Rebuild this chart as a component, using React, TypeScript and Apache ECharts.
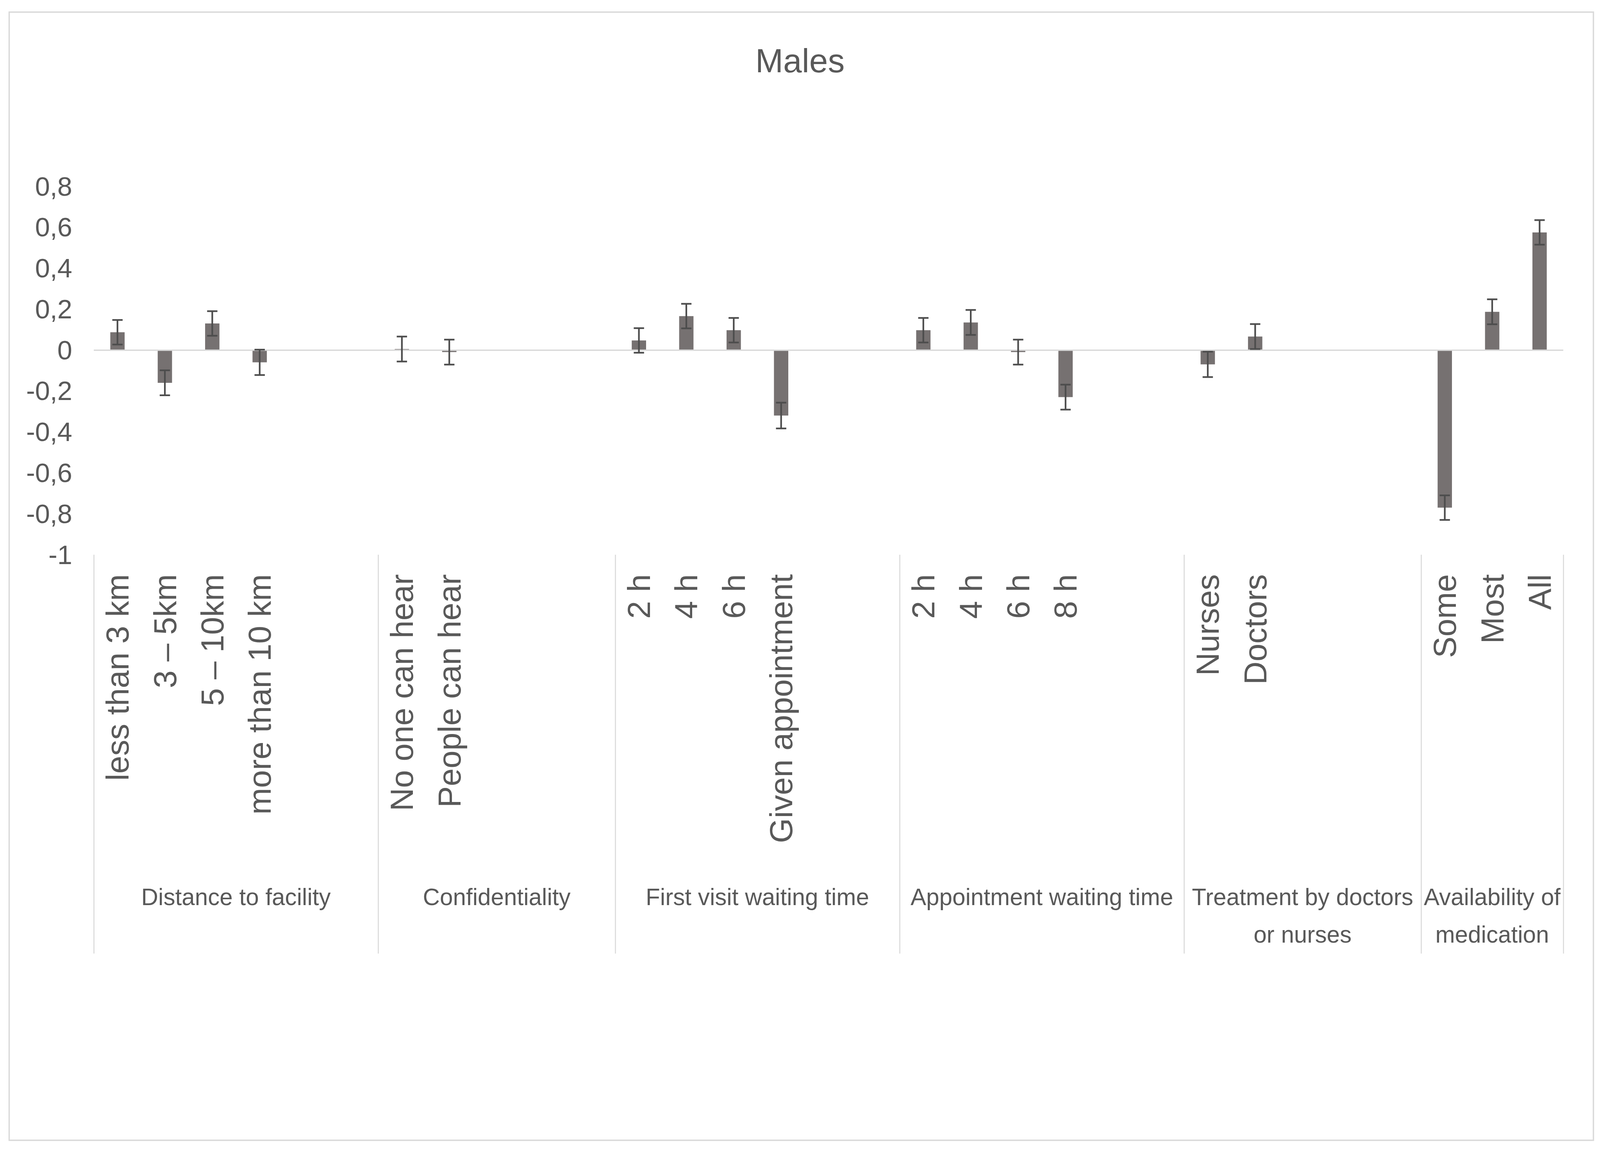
import React, { useEffect, useRef } from "react";
import * as echarts from "echarts";

// ---- Data ----
const categories = [
  "less than 3 km", "3 – 5km", "5 – 10km", "more than 10 km", "", "",
  "No one can hear", "People can hear", "", "", "",
  "2 h", "4 h", "6 h", "Given appointment", "", "",
  "2 h", "4 h", "6 h", "8 h", "", "",
  "Nurses", "Doctors", "", "", "",
  "Some", "Most", "All",
];

const values: (number | null)[] = [
  0.087, -0.16, 0.13, -0.06, null, null,
  0.005, -0.01, null, null, null,
  0.047, 0.166, 0.097, -0.32, null, null,
  0.097, 0.135, -0.01, -0.23, null, null,
  -0.07, 0.066, null, null, null,
  -0.77, 0.187, 0.575,
];

const errors: (number | null)[] = [
  0.06, 0.061, 0.06, 0.062, null, null,
  0.061, 0.061, null, null, null,
  0.06, 0.06, 0.06, 0.063, null, null,
  0.06, 0.061, 0.061, 0.061, null, null,
  0.062, 0.061, null, null, null,
  0.06, 0.061, 0.06,
];

// group labels on a half-slot grid (63 points covering 31 slots)
const groupNames = [
  "Distance to facility",
  "Confidentiality",
  "First visit waiting time",
  "Appointment waiting time",
  "Treatment by doctors\nor nurses",
  "Availability of\nmedication",
];
const groupCenterIdx = [6, 17, 28, 40, 51, 59];
const groupBoundaryIdx = [0, 12, 22, 34, 46, 56, 62];

const yTickLabels = ["-1", "-0,8", "-0,6", "-0,4", "-0,2", "0", "0,2", "0,4", "0,6", "0,8"];

const title = "Males";

// design size of the reference
const DW = 5580;
const DH = 2949;

export default function App() {
  const ref = useRef<HTMLDivElement>(null);

  useEffect(() => {
    document.body.style.margin = "0";
    document.body.style.overflow = "hidden";
    const el = ref.current;
    if (!el) return;
    const W = window.innerWidth || DW;
    const H = window.innerHeight || DH;
    el.style.width = W + "px";
    el.style.height = H + "px";
    const kx = W / DW;
    const ky = H / DH;
    const k = Math.min(kx, ky);
    const km = Math.sqrt(kx * ky);

    const chart = echarts.init(el, undefined, { renderer: "svg", width: W, height: H });

    const font = "'Liberation Sans', Arial, Helvetica, sans-serif";
    const textColor = "#595959";

    const groupAxisData: string[] = [];
    for (let i = 0; i < 63; i++) {
      const g = groupCenterIdx.indexOf(i);
      groupAxisData.push(g >= 0 ? groupNames[g] : "");
    }

    const errData: number[][] = [];
    values.forEach((v, i) => {
      const e = errors[i];
      if (v != null && e != null) errData.push([i, v - e, v + e]);
    });

    chart.setOption({
      animation: false,
      backgroundColor: "#ffffff",
      title: {
        text: title,
        left: "center",
        top: 150 * ky - 50 * km,
        textStyle: {
          fontFamily: font,
          fontSize: 100 * km,
          lineHeight: 100 * km,
          fontWeight: "normal",
          color: textColor,
        },
      },
      graphic: [
        {
          type: "rect",
          shape: { x: 32 * kx, y: 31 * ky, width: 5525 * kx, height: 2888 * ky },
          style: { fill: "transparent", stroke: "#d9d9d9", lineWidth: 4 * km },
          z: -1,
          silent: true,
        },
      ],
      grid: {
        left: 327 * kx,
        right: 128 * kx,
        top: 477 * ky,
        bottom: 1529 * ky,
        containLabel: false,
      },
      xAxis: [
        {
          type: "category",
          data: categories,
          position: "bottom",
          boundaryGap: true,
          axisLine: { show: false },
          axisTick: { show: false },
          axisLabel: {
            interval: 0,
            rotate: 90,
            margin: 50 * ky,
            fontFamily: font,
            fontSize: 82 * ky,
            color: textColor,
          },
        },
        {
          type: "category",
          data: groupAxisData,
          position: "bottom",
          boundaryGap: false,
          axisLine: { show: false },
          axisTick: {
            show: true,
            length: 1021 * ky,
            interval: (index: number) => groupBoundaryIdx.indexOf(index) >= 0,
            lineStyle: { color: "#d9d9d9", width: 3 * km },
          },
          axisLabel: {
            interval: 0,
            margin: 876 * ky - 48 * ky,
            fontFamily: font,
            fontSize: 82 * kx,
            lineHeight: 96 * ky,
            color: textColor,
            align: "center",
          },
        },
      ],
      yAxis: {
        type: "value",
        min: -1,
        max: 0.8,
        interval: 0.2,
        axisLine: { show: false },
        axisTick: { show: false },
        splitLine: { show: false },
        axisLabel: {
          margin: 75 * kx,
          fontFamily: font,
          fontSize: 80 * km,
          color: textColor,
          formatter: (v: number) => yTickLabels[Math.round((v + 1) / 0.2)],
        },
      },
      series: [
        {
          type: "bar",
          xAxisIndex: 0,
          data: values,
          barWidth: 50 * kx,
          itemStyle: { color: "#767171" },
          markLine: {
            silent: true,
            symbol: ["none", "none"],
            label: { show: false },
            lineStyle: { color: "#d9d9d9", width: 4 * km, type: "solid" },
            data: [{ yAxis: 0 }],
          },
        },
        {
          type: "custom",
          xAxisIndex: 0,
          data: errData,
          z: 5,
          renderItem: (params: any, api: any) => {
            const x = api.value(0);
            const pLo = api.coord([x, api.value(1)]);
            const pHi = api.coord([x, api.value(2)]);
            const half = 18 * kx;
            const style = { stroke: "#4d4d4d", lineWidth: 5 * km };
            return {
              type: "group",
              children: [
                { type: "line", shape: { x1: pLo[0], y1: pLo[1], x2: pHi[0], y2: pHi[1] }, style },
                { type: "line", shape: { x1: pLo[0] - half, y1: pLo[1], x2: pLo[0] + half, y2: pLo[1] }, style },
                { type: "line", shape: { x1: pHi[0] - half, y1: pHi[1], x2: pHi[0] + half, y2: pHi[1] }, style },
              ],
            };
          },
        },
      ],
    });

    return () => chart.dispose();
  }, []);

  return <div ref={ref} style={{ width: "100vw", height: "100vh" }} />;
}
